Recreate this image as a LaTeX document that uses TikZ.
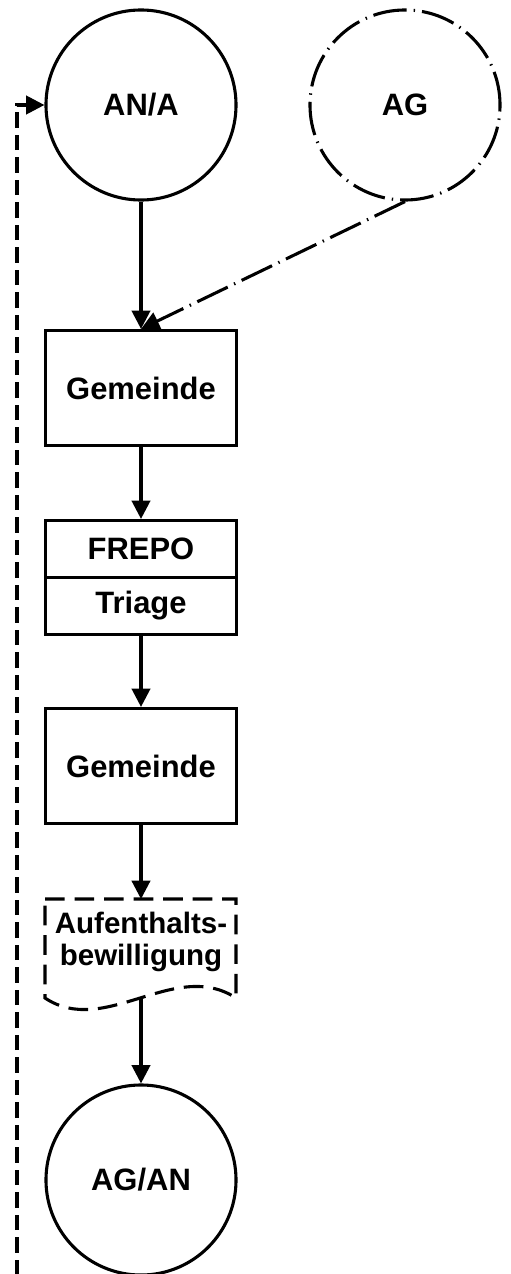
\documentclass[tikz,border=0pt]{standalone}
\usepackage{fontspec}
\setmainfont{Liberation Sans}
\usetikzlibrary{arrows.meta}

\begin{document}
\begin{tikzpicture}[x=0.025cm, y=-0.025cm, line width=2.2pt,
  every node/.style={font=\fontsize{22}{26}\selectfont\bfseries},
  actor/.style={circle, draw, minimum size=4.75cm, inner sep=0pt},
  proc/.style={rectangle, draw, minimum width=4.775cm, minimum height=2.875cm, inner sep=0pt},
  half/.style={rectangle, draw, minimum width=4.775cm, minimum height=1.425cm, inner sep=0pt},
  flow/.style={-{Triangle[length=13pt, width=13pt]}},
  dashdot/.style={dash pattern=on 24pt off 5pt on 1pt off 5pt},
  longdash/.style={dash pattern=on 11pt off 5pt},
  docdash/.style={dash pattern=on 14pt off 7pt}]
  \useasboundingbox (0,0) rectangle (511,1274);

  % Actors
  \node[actor] (ana) at (141,105) {AN/A};
  \node[actor, dashdot] (ag) at (405,105) {AG};
  \node[actor] (agan) at (141,1180) {AG/AN};

  % Process steps
  \node[proc] (gem1) at (141,388) {Gemeinde};
  \node[half] (frepo) at (141,549) {FREPO};
  \node[half] (triage) at (141,606) {Triage};
  \node[proc] (gem2) at (141,766) {Gemeinde};

  % Document
  \draw[docdash] (45,899) -- (236,899) -- (236,998)
    .. controls (175,958) and (105,1038) .. (45,998) -- cycle;
  \node[align=center, font=\fontsize{21}{23}\selectfont\bfseries] (permit) at (141,942)
    {Aufenthalts-\\bewilligung};
  \coordinate (permittop) at (141,899);
  \coordinate (permitbot) at (141,997);

  % Flows
  \draw[flow] (ana) -- (gem1);
  \draw[flow, dashdot] (ag.south) -- (gem1.north);
  \draw[flow] (gem1) -- (frepo);
  \draw[flow] (triage) -- (gem2);
  \draw[flow] (gem2) -- (permittop);
  \draw[flow] (permitbot) -- (agan);

  % Feedback
  \coordinate (fbstart) at (17,1320);
  \draw[flow, longdash] (fbstart) |- (ana.west);
\end{tikzpicture}
\end{document}
